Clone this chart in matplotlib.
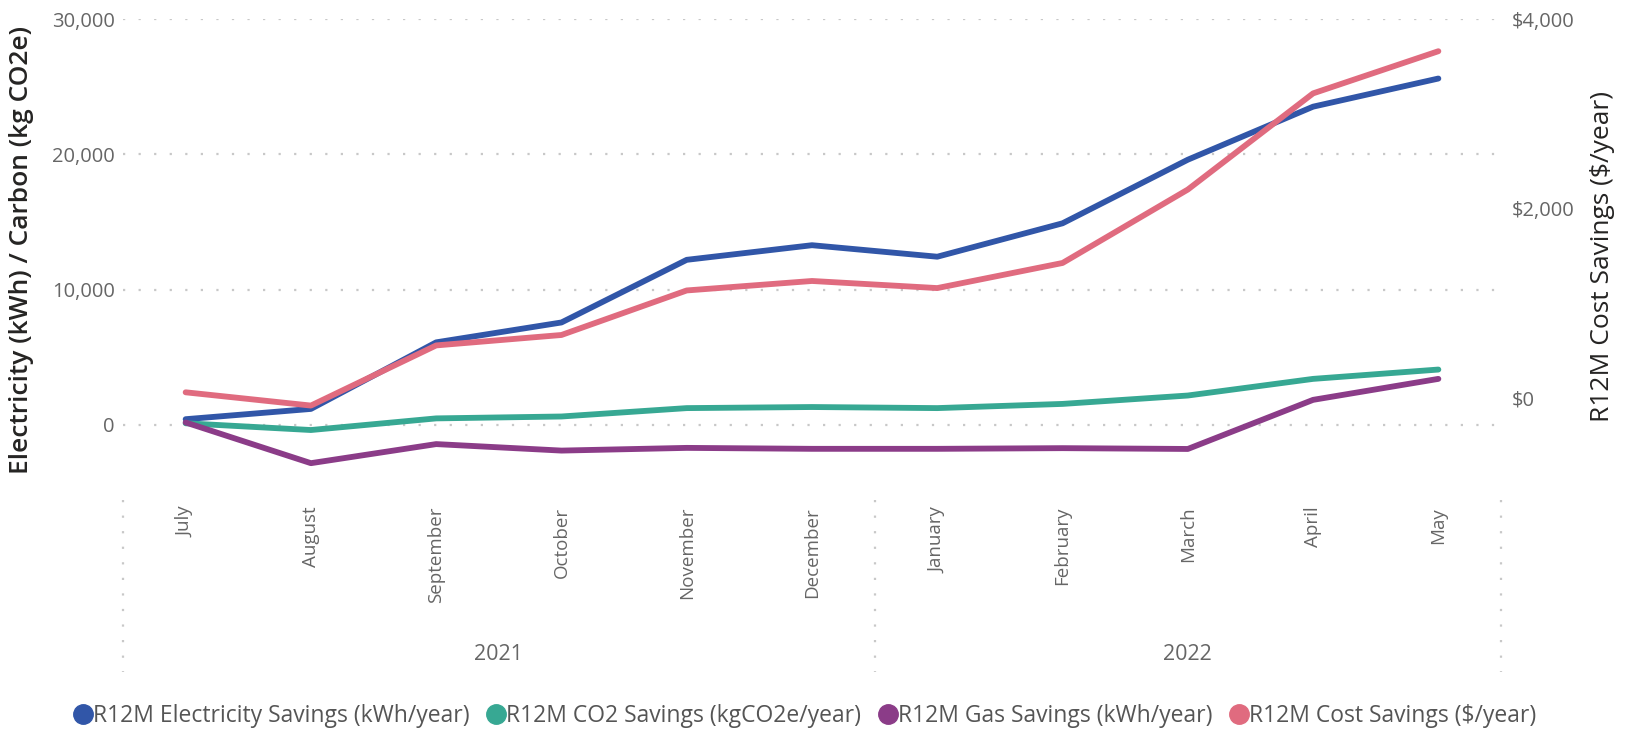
import matplotlib
matplotlib.use("Agg")
import matplotlib.pyplot as plt
from matplotlib.lines import Line2D
import matplotlib.transforms as mtransforms

plt.rcParams['font.family'] = ['Open Sans', 'DejaVu Sans']

months = ["July", "August", "September", "October", "November", "December",
          "January", "February", "March", "April", "May"]
years = ["2021", "2022"]
year_groups = [(0, 5), (6, 10)]

electricity = [420, 1180, 6100, 7570, 12200, 13280, 12430, 14900, 19600, 23520, 25600]
co2 = [120, -380, 480, 620, 1240, 1320, 1240, 1550, 2170, 3400, 4090]
gas = [180, -2830, -1420, -1900, -1700, -1770, -1770, -1720, -1780, 1850, 3400]
cost = [60, -80, 555, 665, 1135, 1235, 1160, 1425, 2200, 3215, 3660]

series_left = [
    ("R12M Electricity Savings (kWh/year)", electricity, "#3156A8"),
    ("R12M CO2 Savings (kgCO2e/year)", co2, "#37A893"),
    ("R12M Gas Savings (kWh/year)", gas, "#8B3C88"),
]
cost_label = "R12M Cost Savings ($/year)"
cost_color = "#E06B7F"

left_ticks = [0, 10000, 20000, 30000]
right_ticks = [0, 2000, 4000]

W, H = 1635, 732
fig = plt.figure(figsize=(W / 100, H / 100), dpi=100)
ax_l, ax_r_px, ax_t, ax_b = 123, 1501, 19, 479
ax = fig.add_axes([ax_l / W, 1 - ax_b / H, (ax_r_px - ax_l) / W, (ax_b - ax_t) / H])
ax2 = ax.twinx()

x = list(range(len(months)))
lw = 4.2
for name, vals, col in series_left:
    ax.plot(x, vals, color=col, lw=lw, solid_capstyle='round', solid_joinstyle='round', zorder=3)
ax2.plot(x, cost, color=cost_color, lw=lw, solid_capstyle='round', solid_joinstyle='round', zorder=3)

ax.set_xlim(-0.5, len(months) - 0.5)
ax.set_ylim(-4000, 30000)
ax2.set_ylim(-855, 4000)

for a in (ax, ax2):
    for s in a.spines.values():
        s.set_visible(False)

ax.set_yticks(left_ticks)
ax.set_yticklabels([f"{v:,}" for v in left_ticks])
ax2.set_yticks(right_ticks)
ax2.set_yticklabels([f"${v:,}" for v in right_ticks])
ax.tick_params(axis='y', length=0, pad=6, labelsize=14.5, labelcolor="#666666")
ax2.tick_params(axis='y', length=0, pad=8, labelsize=14.5, labelcolor="#666666")

ax.grid(axis='y', color="#C8C8C8", linestyle=(0, (1, 6)), linewidth=1.6)
ax.set_axisbelow(True)

ax.set_xticks(x)
ax.set_xticklabels(months, rotation=90, va='top', ha='center')
ax.tick_params(axis='x', length=0, pad=20, labelsize=13.5, labelcolor="#666666")

# year labels and separators
trans = mtransforms.blended_transform_factory(ax.transData, ax.transAxes)
y0 = (ax_b - 500) / (ax_b - ax_t)
y1 = (ax_b - 672) / (ax_b - ax_t)
bounds = [-0.5] + [g[1] + 0.5 for g in year_groups]
for bx in bounds:
    ax.add_line(Line2D([bx, bx], [y0, y1], transform=trans, color="#C8C8C8",
                       linestyle=(0, (1, 6)), linewidth=1.6, clip_on=False))
yy = (ax_b - 654) / (ax_b - ax_t)
for yr, (a, b) in zip(years, year_groups):
    ax.text((a + b) / 2, yy, yr, transform=trans, ha='center', va='center',
            fontsize=15.5, color="#666666")

ax.set_ylabel("Electricity (kWh) / Carbon (kg CO2e)", fontsize=19, color="#252423",
              fontweight='semibold')
ax.yaxis.set_label_coords((34 - ax_l) / (ax_r_px - ax_l), (ax_b - 250) / (ax_b - ax_t))
ax2.set_ylabel(cost_label, fontsize=19, color="#252423", rotation=90)
ax2.yaxis.set_label_coords((1590 - ax_l) / (ax_r_px - ax_l), (ax_b - 256) / (ax_b - ax_t))

handles = [Line2D([], [], marker='o', linestyle='', markersize=14, color=c, label=n)
           for n, _, c in series_left]
handles.append(Line2D([], [], marker='o', linestyle='', markersize=14, color=cost_color, label=cost_label))
fig.legend(handles=handles, loc='center', bbox_to_anchor=(0.492, 1 - 716 / H), ncol=4,
           frameon=False, fontsize=16.5, handletextpad=0.0, columnspacing=0.7,
           labelcolor="#555555", borderaxespad=0, handlelength=0.9)

fig.savefig("out.png", dpi=100)
